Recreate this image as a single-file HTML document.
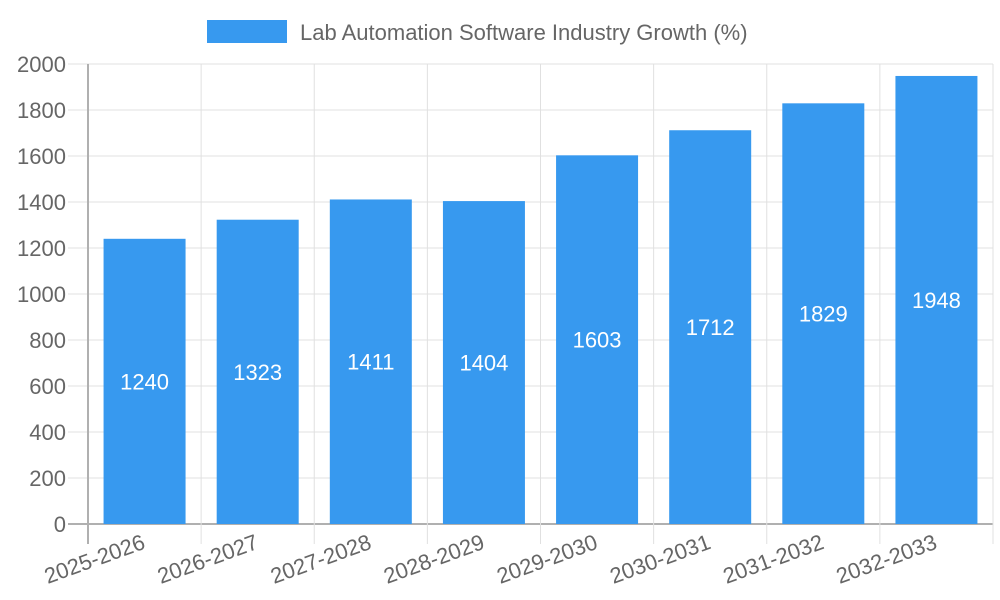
<!DOCTYPE html>
<html><head><meta charset="utf-8"><style>body{margin:0;background:#fff}svg{display:block;font-family:"Liberation Sans",sans-serif}</style></head>
<body>
<svg id="chart" width="1000" height="600">
<rect x="207" y="20" width="80" height="23" fill="#3799ef"/>
<text x="300" y="40" font-size="22" fill="#666">Lab Automation Software Industry Growth (%)</text>
<g id="grid"></g><g id="bars"></g><g id="labels"></g>
</svg>
<script>
const categories=["2025-2026","2026-2027","2027-2028","2028-2029","2029-2030","2030-2031","2031-2032","2032-2033"];
const values=[1240,1323,1411,1404,1603,1712,1829,1948];
const yTicks=[0,200,400,600,800,1000,1200,1400,1600,1800,2000];
const L=88,R=993,T=64,B=524,yMax=2000;
const ns="http://www.w3.org/2000/svg";
const bw=(R-L)/categories.length;
const y=v=>B-(v/yMax)*(B-T);
const x=i=>L+i*bw;
function mk(t,a,p){const e=document.createElementNS(ns,t);for(const k in a)e.setAttribute(k,a[k]);p.appendChild(e);return e;}
const g=document.getElementById('grid'),bg=document.getElementById('bars'),lg=document.getElementById('labels');
yTicks.forEach(t=>{
 const l=mk('line',{x1:68,x2:R,y1:y(t),y2:y(t),stroke:t===0?'#b0b0b0':'#e0e0e0','stroke-width':t===0?2:1},g);
 
 
 const tx=mk('text',{x:66,y:y(t)+8,'text-anchor':'end','font-size':22,fill:'#666'},g);
 tx.textContent=t;
 
 
});
for(let i=0;i<=categories.length;i++){
 const l=mk('line',{x1:x(i),x2:x(i),y1:T,y2:544,stroke:i===0?'#b0b0b0':'#e0e0e0','stroke-width':i===0?2:1},g);
 
 
}
categories.forEach((c,i)=>{
 const cx=x(i)+bw/2,v=values[i];
 const r=mk('rect',{x:cx-41,y:y(v),width:82,height:B-y(v),fill:'#3799ef'},bg);
 
 
 const vt=mk('text',{x:cx,y:(y(v)+B)/2+8,'text-anchor':'middle','font-size':22,fill:'#fff'},lg);
 vt.textContent=v;
 
 
 const ct=mk('text',{x:cx+2,y:548,'text-anchor':'end','font-size':22,fill:'#666',transform:`rotate(-20 ${cx+2} 548)`},lg);
 ct.textContent=c;
 
 
});
</script>
</body></html>
